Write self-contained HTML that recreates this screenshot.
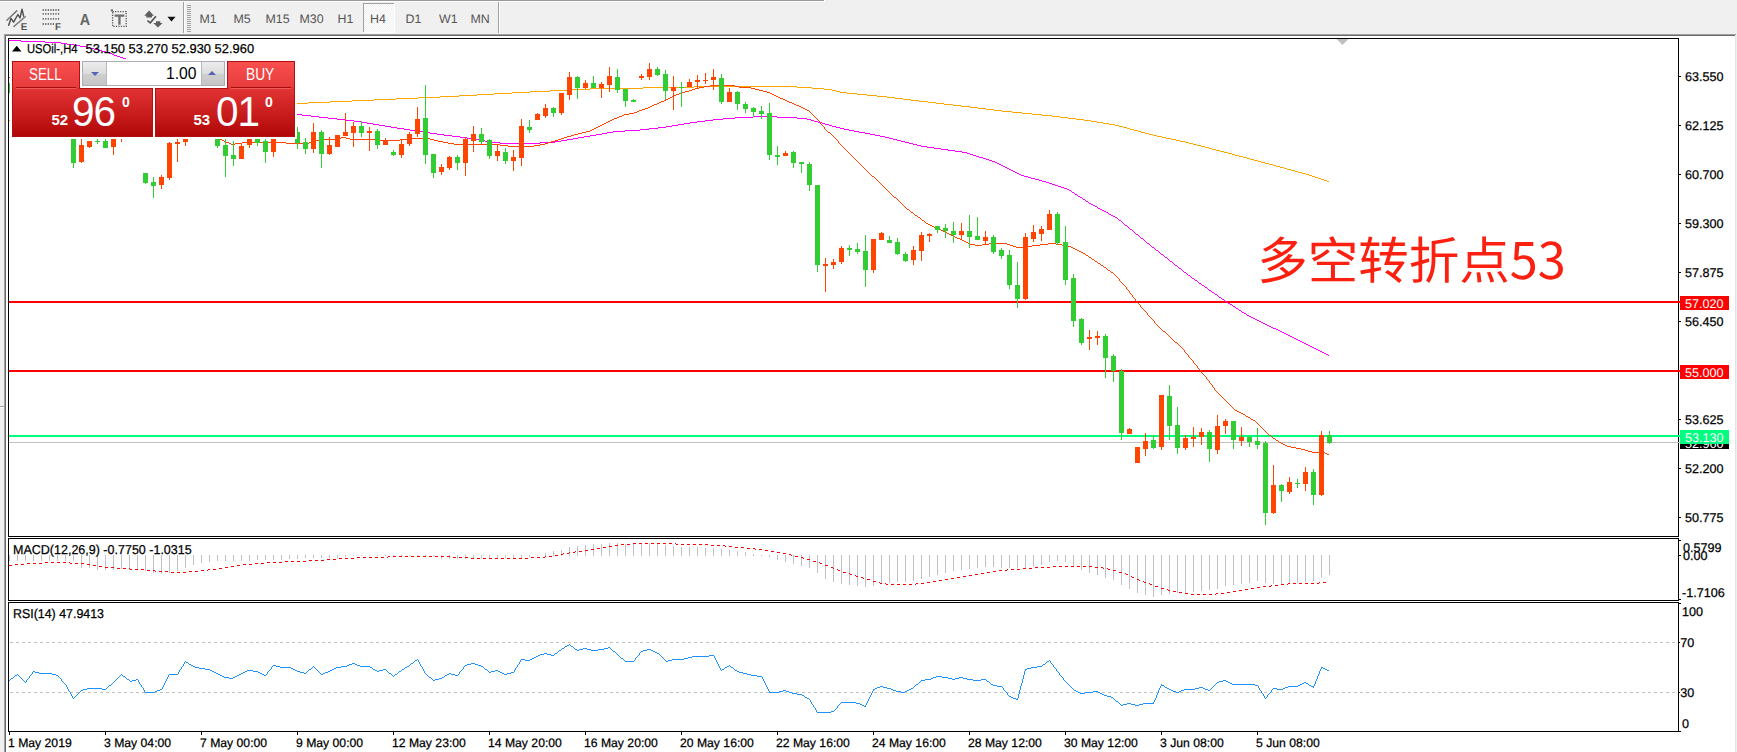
<!DOCTYPE html>
<html><head><meta charset="utf-8"><title>USOil H4</title>
<style>
html,body{margin:0;padding:0}
body{width:1737px;height:752px;overflow:hidden;background:#f0f0f0;position:relative;font-family:"Liberation Sans","Noto Sans CJK SC",sans-serif;}
#win{position:absolute;left:6px;top:36px;width:1729px;height:716px;background:#fff}
svg{position:absolute;left:0;top:0}
.t{font-family:"Liberation Sans",sans-serif;font-size:12.6px;fill:#000;stroke:#000;stroke-width:.25px}
.w{stroke:#fff}
.tb{font-family:"Liberation Sans",sans-serif;font-size:12.4px;fill:#555}
.abs{position:absolute}
#oct{position:absolute;left:0;top:0;width:1737px;height:752px;pointer-events:none}
.pan{position:absolute;box-sizing:border-box;border:1px solid #b30f12;color:#fff}
.sx{display:inline-block;transform-origin:0 50%;white-space:nowrap}
</style></head><body>
<div id="win"></div>

<svg width="1737" height="752" viewBox="0 0 1737 752" shape-rendering="crispEdges">
<rect x="0" y="0" width="824" height="1" fill="#989898"/><rect x="0" y="1" width="825" height="1" fill="#fff"/><rect x="824" y="0" width="1" height="2" fill="#fff"/>
<rect x="4" y="34" width="1732" height="1" fill="#a0a0a0"/><rect x="5" y="35" width="1730" height="1" fill="#696969"/>
<rect x="4" y="34" width="1" height="718" fill="#a0a0a0"/><rect x="5" y="35" width="1" height="717" fill="#696969"/>
<rect x="1735" y="36" width="1" height="716" fill="#e3e3e3"/>
<rect x="0" y="406" width="4" height="1" fill="#a0a0a0"/><rect x="0" y="407" width="4" height="1" fill="#fff"/>
<rect x="183" y="2" width="1" height="31" fill="#a0a0a0"/><rect x="184" y="2" width="1" height="31" fill="#fff"/>
<rect x="187" y="5" width="4" height="1" fill="#a0a0a0"/>
<rect x="187" y="7" width="4" height="1" fill="#a0a0a0"/>
<rect x="187" y="9" width="4" height="1" fill="#a0a0a0"/>
<rect x="187" y="11" width="4" height="1" fill="#a0a0a0"/>
<rect x="187" y="13" width="4" height="1" fill="#a0a0a0"/>
<rect x="187" y="15" width="4" height="1" fill="#a0a0a0"/>
<rect x="187" y="17" width="4" height="1" fill="#a0a0a0"/>
<rect x="187" y="19" width="4" height="1" fill="#a0a0a0"/>
<rect x="187" y="21" width="4" height="1" fill="#a0a0a0"/>
<rect x="187" y="23" width="4" height="1" fill="#a0a0a0"/>
<rect x="187" y="25" width="4" height="1" fill="#a0a0a0"/>
<rect x="187" y="27" width="4" height="1" fill="#a0a0a0"/>
<rect x="187" y="29" width="4" height="1" fill="#a0a0a0"/>
<rect x="187" y="31" width="4" height="1" fill="#a0a0a0"/>
<rect x="498" y="2" width="1" height="31" fill="#a0a0a0"/><rect x="499" y="2" width="1" height="31" fill="#fff"/>
<defs><pattern id="chk" width="2" height="2" patternUnits="userSpaceOnUse"><rect width="2" height="2" fill="#f0f0f0"/><rect width="1" height="1" fill="#fff"/><rect x="1" y="1" width="1" height="1" fill="#fff"/></pattern></defs>
<rect x="364" y="4" width="30" height="28" fill="url(#chk)"/><rect x="363" y="3" width="31" height="1" fill="#a0a0a0"/><rect x="363" y="3" width="1" height="29" fill="#a0a0a0"/><rect x="394" y="3" width="1" height="30" fill="#fff"/><rect x="363" y="32" width="32" height="1" fill="#fff"/>
<rect x="9" y="301" width="1669" height="2" fill="#ff0000"/>
<rect x="9" y="370" width="1669" height="2" fill="#ff0000"/>
<rect x="9" y="442" width="1669" height="1" fill="#c0c0c0"/>
<rect x="9" y="435" width="1669" height="2" fill="#00ff7f"/>
<polygon points="1336.5,39 1348.5,39 1342.5,45" fill="#c0c0c0" shape-rendering="auto"/>
<g clip-path="url(#cm)">
<clipPath id="cm"><rect x="9" y="39" width="1669" height="497"/></clipPath>
<path d="M694 86.5h103M643 87.5h51M797 87.5h15M590 88.5h53M812 88.5h12M570 89.5h20M824 89.5h8M550 90.5h20M832 90.5h4M530 91.5h20M836 91.5h4M512 92.5h18M840 92.5h7M494 93.5h18M847 93.5h10M477 94.5h17M857 94.5h10M459 95.5h18M867 95.5h10M440 96.5h19M877 96.5h10M418 97.5h22M887 97.5h8M396 98.5h22M895 98.5h8M374 99.5h22M903 99.5h8M352 100.5h22M911 100.5h8M330 101.5h22M919 101.5h9M308 102.5h22M928 102.5h8M289 103.5h19M936 103.5h8M272 104.5h17M944 104.5h9M255 105.5h17M953 105.5h8M238 106.5h17M961 106.5h9M221 107.5h17M970 107.5h8M204 108.5h17M978 108.5h8M187 109.5h17M986 109.5h8M170 110.5h17M994 110.5h8M153 111.5h17M1002 111.5h10M137 112.5h16M1012 112.5h10M120 113.5h17M1022 113.5h10M103 114.5h17M1032 114.5h10M86 115.5h17M1042 115.5h10M69 116.5h17M1052 116.5h8M52 117.5h17M1060 117.5h8M35 118.5h17M1068 118.5h8M18 119.5h17M1076 119.5h8M9 120.5h9M1084 120.5h7M1091 121.5h6M1097 122.5h6M1103 123.5h6M1109 124.5h6M1115 125.5h4M1119 126.5h4M1123 127.5h4M1127 128.5h3M1130 129.5h4M1134 130.5h4M1138 131.5h3M1141 132.5h4M1145 133.5h4M1149 134.5h4M1153 135.5h4M1157 136.5h5M1162 137.5h4M1166 138.5h5M1171 139.5h5M1176 140.5h4M1180 141.5h5M1185 142.5h4M1189 143.5h4M1193 144.5h4M1197 145.5h4M1201 146.5h4M1205 147.5h4M1209 148.5h3M1212 149.5h4M1216 150.5h4M1220 151.5h4M1224 152.5h4M1228 153.5h4M1232 154.5h3M1235 155.5h4M1239 156.5h4M1243 157.5h4M1247 158.5h3M1250 159.5h4M1254 160.5h4M1258 161.5h3M1261 162.5h4M1265 163.5h4M1269 164.5h4M1273 165.5h3M1276 166.5h4M1280 167.5h4M1284 168.5h3M1287 169.5h4M1291 170.5h4M1295 171.5h3M1298 172.5h4M1302 173.5h4M1306 174.5h3M1309 175.5h3M1312 176.5h3M1315 177.5h3M1318 178.5h3M1321 179.5h3M1324 180.5h3M1327 181.5h2" fill="none" stroke="#ffa500" stroke-width="1" />
<path d="M9 40.5h12M21 41.5h24M45 42.5h16M61 43.5h6M67 44.5h7M74 45.5h6M80 46.5h6M86 47.5h4M90 48.5h4M94 49.5h4M98 50.5h4M102 51.5h4M106 52.5h3M109 53.5h3M112 54.5h2M114 55.5h3M117 56.5h3M120 57.5h3M123 58.5h3M126 59.5h2M128 60.5h3M131 61.5h3M134 62.5h2M136 63.5h3M139 64.5h2M141 65.5h3M144 66.5h3M147 67.5h2M149 68.5h3M152 69.5h3M155 70.5h2M157 71.5h3M160 72.5h3M163 73.5h3M166 74.5h3M169 75.5h2M171 76.5h3M174 77.5h3M177 78.5h3M180 79.5h2M182 80.5h3M185 81.5h3M188 82.5h3M191 83.5h3M194 84.5h2M196 85.5h3M199 86.5h3M202 87.5h3M205 88.5h3M208 89.5h3M211 90.5h4M215 91.5h3M218 92.5h3M221 93.5h3M224 94.5h3M227 95.5h3M230 96.5h3M233 97.5h3M236 98.5h4M240 99.5h3M243 100.5h3M246 101.5h3M249 102.5h3M252 103.5h4M256 104.5h4M260 105.5h4M264 106.5h4M268 107.5h4M272 108.5h4M276 109.5h4M280 110.5h4M284 111.5h4M288 112.5h4M292 113.5h4M296 114.5h6M302 115.5h9M311 116.5h8M753 116.5h24M319 117.5h9M735 117.5h18M777 117.5h20M328 118.5h9M723 118.5h12M797 118.5h10M337 119.5h8M713 119.5h10M807 119.5h4M345 120.5h9M705 120.5h8M811 120.5h3M354 121.5h7M697 121.5h8M814 121.5h4M361 122.5h6M690 122.5h7M818 122.5h4M367 123.5h6M684 123.5h6M822 123.5h3M373 124.5h6M678 124.5h6M825 124.5h4M379 125.5h6M672 125.5h6M829 125.5h3M385 126.5h6M666 126.5h6M832 126.5h4M391 127.5h6M658 127.5h8M836 127.5h4M397 128.5h7M649 128.5h9M840 128.5h4M404 129.5h6M640 129.5h9M844 129.5h5M410 130.5h7M625 130.5h15M849 130.5h5M417 131.5h7M613 131.5h12M854 131.5h5M424 132.5h6M607 132.5h6M859 132.5h6M430 133.5h7M602 133.5h5M865 133.5h5M437 134.5h7M596 134.5h6M870 134.5h5M444 135.5h8M590 135.5h6M875 135.5h5M452 136.5h8M584 136.5h6M880 136.5h5M460 137.5h7M578 137.5h6M885 137.5h4M467 138.5h6M573 138.5h5M889 138.5h4M473 139.5h6M567 139.5h6M893 139.5h4M479 140.5h6M561 140.5h6M897 140.5h4M485 141.5h7M555 141.5h6M901 141.5h4M492 142.5h8M540 142.5h15M905 142.5h4M500 143.5h40M909 143.5h4M913 144.5h4M917 145.5h4M921 146.5h6M927 147.5h7M934 148.5h7M941 149.5h7M948 150.5h7M955 151.5h7M962 152.5h5M967 153.5h3M970 154.5h3M973 155.5h3M976 156.5h3M979 157.5h4M983 158.5h3M986 159.5h3M989 160.5h3M992 161.5h3M995 162.5h2M997 163.5h2M999 164.5h2M1001 165.5h2M1003 166.5h2M1005 167.5h2M1007 168.5h2M1009 169.5h2M1011 170.5h2M1013 171.5h2M1015 172.5h2M1017 173.5h2M1019 174.5h2M1021 175.5h3M1024 176.5h4M1028 177.5h3M1031 178.5h4M1035 179.5h4M1039 180.5h3M1042 181.5h4M1046 182.5h3M1049 183.5h3M1052 184.5h3M1055 185.5h3M1058 186.5h3M1061 187.5h3M1064 188.5h3M1067 189.5h2M1069 190.5h2M1071 191.5h1M1072 192.5h2M1074 193.5h1M1075 194.5h2M1077 195.5h1M1078 196.5h2M1080 197.5h2M1082 198.5h1M1083 199.5h2M1085 200.5h1M1086 201.5h2M1088 202.5h1M1089 203.5h2M1091 204.5h2M1093 205.5h2M1095 206.5h2M1097 207.5h1M1098 208.5h2M1100 209.5h2M1102 210.5h2M1104 211.5h2M1106 212.5h2M1108 213.5h1M1109 214.5h2M1111 215.5h2M1113 216.5h2M1115 217.5h2M1117 218.5h1M1118 219.5h1M1119 220.5h2M1121 221.5h1M1122 222.5h1M1123 223.5h1M1124 224.5h1M1125 225.5h2M1127 226.5h1M1128 227.5h1M1129 228.5h1M1130 229.5h2M1132 230.5h1M1133 231.5h1M1134 232.5h1M1135 233.5h1M1136 234.5h2M1138 235.5h1M1139 236.5h1M1140 237.5h1M1141 238.5h2M1143 239.5h1M1144 240.5h1M1145 241.5h1M1146 242.5h1M1147 243.5h2M1149 244.5h1M1150 245.5h1M1151 246.5h1M1152 247.5h2M1154 248.5h1M1155 249.5h1M1156 250.5h2M1158 251.5h1M1159 252.5h1M1160 253.5h1M1161 254.5h2M1163 255.5h1M1164 256.5h1M1165 257.5h2M1167 258.5h1M1168 259.5h1M1169 260.5h1M1170 261.5h2M1172 262.5h1M1173 263.5h1M1174 264.5h1M1175 265.5h2M1177 266.5h1M1178 267.5h1M1179 268.5h2M1181 269.5h1M1182 270.5h1M1183 271.5h1M1184 272.5h2M1186 273.5h1M1187 274.5h1M1188 275.5h2M1190 276.5h1M1191 277.5h1M1192 278.5h2M1194 279.5h1M1195 280.5h2M1197 281.5h1M1198 282.5h1M1199 283.5h2M1201 284.5h1M1202 285.5h2M1204 286.5h1M1205 287.5h2M1207 288.5h1M1208 289.5h1M1209 290.5h2M1211 291.5h1M1212 292.5h2M1214 293.5h1M1215 294.5h2M1217 295.5h1M1218 296.5h1M1219 297.5h2M1221 298.5h1M1222 299.5h2M1224 300.5h1M1225 301.5h2M1227 302.5h1M1228 303.5h2M1230 304.5h2M1232 305.5h1M1233 306.5h2M1235 307.5h1M1236 308.5h2M1238 309.5h1M1239 310.5h2M1241 311.5h1M1242 312.5h2M1244 313.5h2M1246 314.5h1M1247 315.5h2M1249 316.5h2M1251 317.5h2M1253 318.5h2M1255 319.5h2M1257 320.5h2M1259 321.5h2M1261 322.5h2M1263 323.5h2M1265 324.5h2M1267 325.5h2M1269 326.5h2M1271 327.5h2M1273 328.5h3M1276 329.5h2M1278 330.5h2M1280 331.5h2M1282 332.5h2M1284 333.5h2M1286 334.5h2M1288 335.5h2M1290 336.5h2M1292 337.5h2M1294 338.5h2M1296 339.5h2M1298 340.5h2M1300 341.5h2M1302 342.5h2M1304 343.5h2M1306 344.5h2M1308 345.5h2M1310 346.5h2M1312 347.5h2M1314 348.5h2M1316 349.5h2M1318 350.5h2M1320 351.5h2M1322 352.5h2M1324 353.5h2M1326 354.5h2M1328 355.5h1" fill="none" stroke="#ff00ff" stroke-width="1" />
<path d="M9 77.5h2M11 78.5h3M14 79.5h2M16 80.5h3M19 81.5h3M22 82.5h3M25 83.5h2M27 84.5h3M30 85.5h3M710 85.5h25M33 86.5h3M704 86.5h6M735 86.5h4M36 87.5h2M699 87.5h5M739 87.5h12M38 88.5h3M695 88.5h4M751 88.5h4M41 89.5h3M692 89.5h3M755 89.5h4M44 90.5h3M689 90.5h3M759 90.5h4M47 91.5h2M685 91.5h4M763 91.5h4M49 92.5h3M682 92.5h3M767 92.5h3M52 93.5h3M679 93.5h3M770 93.5h2M55 94.5h3M676 94.5h3M772 94.5h2M58 95.5h3M674 95.5h2M774 95.5h2M61 96.5h2M672 96.5h2M776 96.5h2M63 97.5h3M670 97.5h2M778 97.5h2M66 98.5h3M668 98.5h2M780 98.5h3M69 99.5h3M666 99.5h2M783 99.5h2M72 100.5h2M664 100.5h2M785 100.5h2M74 101.5h3M661 101.5h3M787 101.5h2M77 102.5h3M659 102.5h2M789 102.5h3M80 103.5h3M657 103.5h2M792 103.5h2M83 104.5h2M654 104.5h3M794 104.5h2M85 105.5h3M652 105.5h2M796 105.5h3M88 106.5h3M650 106.5h2M799 106.5h2M91 107.5h3M648 107.5h2M801 107.5h2M94 108.5h2M645 108.5h3M803 108.5h2M96 109.5h3M642 109.5h3M805 109.5h2M99 110.5h4M639 110.5h3M807 110.5h2M103 111.5h4M637 111.5h2M809 111.5h1M107 112.5h4M634 112.5h3M810 112.5h1M111 113.5h4M629 113.5h5M811 113.5h1M115 114.5h4M624 114.5h5M812 114.5h1M119 115.5h4M622 115.5h2M813 115.5h1M123 116.5h4M619 116.5h3M814 116.5h1M127 117.5h5M617 117.5h2M815 117.5h1M132 118.5h4M614 118.5h3M816 118.5h1M136 119.5h4M612 119.5h2M817 119.5h1M140 120.5h4M610 120.5h2M818 120.5h1M144 121.5h4M608 121.5h2M819 121.5h1M148 122.5h4M606 122.5h2M820 122.5h1M152 123.5h4M604 123.5h2M820 123.5h1M156 124.5h4M602 124.5h2M821 124.5h1M160 125.5h5M600 125.5h2M822 125.5h1M165 126.5h4M598 126.5h2M823 126.5h1M169 127.5h4M596 127.5h2M824 127.5h1M173 128.5h4M594 128.5h2M824 128.5h1M177 129.5h4M592 129.5h2M825 129.5h1M181 130.5h4M590 130.5h2M826 130.5h1M185 131.5h4M586 131.5h4M827 131.5h1M189 132.5h5M582 132.5h4M828 132.5h2M194 133.5h4M578 133.5h4M830 133.5h1M198 134.5h4M574 134.5h4M831 134.5h1M202 135.5h4M571 135.5h3M832 135.5h1M206 136.5h4M567 136.5h4M833 136.5h1M210 137.5h4M341 137.5h5M564 137.5h3M834 137.5h1M214 138.5h4M337 138.5h4M346 138.5h4M408 138.5h22M561 138.5h3M835 138.5h1M218 139.5h4M323 139.5h14M350 139.5h28M400 139.5h8M430 139.5h4M558 139.5h3M836 139.5h1M222 140.5h2M316 140.5h7M378 140.5h22M434 140.5h4M555 140.5h3M837 140.5h1M224 141.5h2M311 141.5h5M438 141.5h5M551 141.5h4M838 141.5h1M226 142.5h3M242 142.5h44M309 142.5h2M443 142.5h5M548 142.5h3M838 142.5h1M229 143.5h2M235 143.5h7M286 143.5h23M448 143.5h6M545 143.5h3M839 143.5h1M231 144.5h4M454 144.5h46M540 144.5h5M840 144.5h1M500 145.5h8M534 145.5h6M841 145.5h1M508 146.5h26M842 146.5h1M843 147.5h1M844 148.5h1M845 149.5h1M846 150.5h1M847 151.5h1M848 152.5h1M849 153.5h1M850 154.5h1M851 155.5h1M852 156.5h1M853 157.5h1M854 158.5h1M855 159.5h1M856 160.5h1M857 161.5h1M858 162.5h1M859 163.5h1M860 164.5h1M861 165.5h1M862 166.5h1M863 167.5h1M864 168.5h1M865 169.5h1M866 170.5h1M867 171.5h1M868 172.5h1M869 173.5h1M870 174.5h1M871 175.5h1M872 176.5h2M874 177.5h1M875 178.5h1M876 179.5h1M877 180.5h1M878 181.5h1M879 182.5h1M880 183.5h1M881 184.5h1M882 185.5h1M883 186.5h1M884 187.5h1M885 188.5h1M886 189.5h1M887 190.5h1M888 191.5h1M889 192.5h1M890 193.5h1M891 194.5h1M892 195.5h1M893 196.5h1M894 197.5h2M896 198.5h1M897 199.5h1M898 200.5h1M899 201.5h1M900 202.5h1M901 203.5h1M902 204.5h1M903 205.5h1M904 206.5h1M905 207.5h1M906 208.5h1M907 209.5h2M909 210.5h1M910 211.5h1M911 212.5h2M913 213.5h1M914 214.5h1M915 215.5h2M917 216.5h1M918 217.5h2M920 218.5h1M921 219.5h1M922 220.5h2M924 221.5h1M925 222.5h1M926 223.5h2M928 224.5h2M930 225.5h2M932 226.5h2M934 227.5h2M936 228.5h3M939 229.5h2M941 230.5h2M943 231.5h2M945 232.5h2M947 233.5h2M949 234.5h2M951 235.5h2M953 236.5h2M955 237.5h2M957 238.5h3M960 239.5h2M962 240.5h2M964 241.5h2M966 242.5h2M968 243.5h2M989 243.5h18M1048 243.5h8M970 244.5h5M982 244.5h7M1007 244.5h3M1040 244.5h8M1056 244.5h6M975 245.5h7M1010 245.5h3M1032 245.5h8M1062 245.5h6M1013 246.5h3M1023 246.5h9M1068 246.5h3M1016 247.5h7M1071 247.5h2M1073 248.5h2M1075 249.5h2M1077 250.5h2M1079 251.5h2M1081 252.5h2M1083 253.5h2M1085 254.5h1M1086 255.5h2M1088 256.5h1M1089 257.5h2M1091 258.5h1M1092 259.5h2M1094 260.5h1M1095 261.5h2M1097 262.5h1M1098 263.5h2M1100 264.5h1M1101 265.5h2M1103 266.5h1M1104 267.5h2M1106 268.5h1M1107 269.5h1M1108 270.5h2M1110 271.5h1M1111 272.5h2M1113 273.5h1M1114 274.5h1M1115 275.5h1M1116 276.5h1M1117 277.5h1M1118 278.5h1M1119 279.5h1M1119 280.5h1M1120 281.5h1M1121 282.5h1M1122 283.5h1M1123 284.5h1M1124 285.5h1M1125 286.5h1M1126 287.5h1M1126 288.5h1M1127 289.5h1M1128 290.5h1M1129 291.5h1M1129 292.5h1M1130 293.5h1M1131 294.5h1M1132 295.5h1M1132 296.5h1M1133 297.5h1M1134 298.5h1M1135 299.5h1M1135 300.5h1M1136 301.5h1M1137 302.5h1M1138 303.5h1M1139 304.5h1M1140 305.5h1M1140 306.5h1M1141 307.5h1M1142 308.5h1M1143 309.5h1M1144 310.5h1M1145 311.5h1M1146 312.5h1M1147 313.5h1M1147 314.5h1M1148 315.5h1M1149 316.5h1M1150 317.5h1M1151 318.5h1M1152 319.5h1M1153 320.5h1M1154 321.5h1M1154 322.5h1M1155 323.5h1M1156 324.5h1M1157 325.5h1M1158 326.5h1M1159 327.5h1M1160 328.5h1M1161 329.5h1M1162 330.5h1M1163 331.5h2M1165 332.5h1M1166 333.5h1M1167 334.5h1M1168 335.5h1M1169 336.5h1M1170 337.5h1M1171 338.5h1M1172 339.5h1M1173 340.5h1M1174 341.5h1M1175 342.5h2M1177 343.5h1M1178 344.5h1M1179 345.5h1M1180 346.5h1M1181 347.5h1M1182 348.5h1M1183 349.5h1M1184 350.5h1M1184 351.5h1M1185 352.5h1M1186 353.5h1M1187 354.5h1M1188 355.5h1M1188 356.5h1M1189 357.5h1M1190 358.5h1M1191 359.5h1M1192 360.5h1M1193 361.5h1M1193 362.5h1M1194 363.5h1M1195 364.5h1M1196 365.5h1M1197 366.5h1M1197 367.5h1M1198 368.5h1M1199 369.5h1M1200 370.5h1M1201 371.5h1M1201 372.5h1M1202 373.5h1M1203 374.5h1M1204 375.5h1M1205 376.5h1M1206 377.5h1M1206 378.5h1M1207 379.5h1M1208 380.5h1M1209 381.5h1M1209 382.5h1M1210 383.5h1M1211 384.5h1M1212 385.5h1M1212 386.5h1M1213 387.5h1M1214 388.5h1M1214 389.5h1M1215 390.5h1M1216 391.5h1M1217 392.5h1M1218 393.5h1M1219 394.5h1M1220 395.5h1M1221 396.5h1M1222 397.5h1M1223 398.5h1M1224 399.5h1M1225 400.5h1M1226 401.5h1M1227 402.5h1M1228 403.5h1M1229 404.5h1M1230 405.5h1M1231 406.5h1M1232 407.5h1M1233 408.5h1M1234 409.5h1M1235 410.5h2M1237 411.5h2M1239 412.5h2M1241 413.5h2M1243 414.5h2M1245 415.5h1M1246 416.5h2M1248 417.5h2M1250 418.5h1M1251 419.5h2M1253 420.5h2M1255 421.5h1M1256 422.5h1M1257 423.5h1M1258 424.5h1M1259 425.5h1M1260 426.5h1M1261 427.5h1M1262 428.5h1M1263 429.5h1M1264 430.5h1M1265 431.5h1M1266 432.5h1M1267 433.5h1M1268 434.5h1M1269 435.5h2M1271 436.5h1M1272 437.5h1M1273 438.5h2M1275 439.5h1M1276 440.5h2M1278 441.5h1M1279 442.5h2M1281 443.5h2M1283 444.5h2M1285 445.5h2M1287 446.5h4M1291 447.5h5M1296 448.5h5M1301 449.5h4M1305 450.5h3M1308 451.5h4M1312 452.5h13M1325 453.5h2M1327 454.5h2" fill="none" stroke="#ff4500" stroke-width="1" />
<rect x="9" y="83" width="1" height="10" fill="#32cd32"/>
<rect x="7" y="83" width="5" height="10" fill="#32cd32"/>
<rect x="73" y="130" width="1" height="38" fill="#32cd32"/>
<rect x="71" y="130" width="5" height="33" fill="#32cd32"/>
<rect x="81" y="130" width="1" height="33" fill="#ff4500"/>
<rect x="79" y="145" width="5" height="17" fill="#ff4500"/>
<rect x="89" y="141" width="1" height="7" fill="#ff4500"/>
<rect x="87" y="141" width="5" height="6" fill="#ff4500"/>
<rect x="97" y="130" width="1" height="14" fill="#32cd32"/>
<rect x="95" y="141" width="5" height="1" fill="#32cd32"/>
<rect x="105" y="139" width="1" height="9" fill="#32cd32"/>
<rect x="103" y="141" width="5" height="7" fill="#32cd32"/>
<rect x="113" y="130" width="1" height="25" fill="#ff4500"/>
<rect x="111" y="130" width="5" height="17" fill="#ff4500"/>
<rect x="121" y="130" width="1" height="12" fill="#ff4500"/>
<rect x="145" y="173" width="1" height="11" fill="#32cd32"/>
<rect x="143" y="173" width="5" height="10" fill="#32cd32"/>
<rect x="153" y="177" width="1" height="21" fill="#32cd32"/>
<rect x="151" y="182" width="5" height="4" fill="#32cd32"/>
<rect x="161" y="175" width="1" height="14" fill="#ff4500"/>
<rect x="159" y="177" width="5" height="8" fill="#ff4500"/>
<rect x="169" y="142" width="1" height="38" fill="#ff4500"/>
<rect x="167" y="143" width="5" height="35" fill="#ff4500"/>
<rect x="177" y="130" width="1" height="32" fill="#ff4500"/>
<rect x="175" y="142" width="5" height="2" fill="#ff4500"/>
<rect x="185" y="130" width="1" height="16" fill="#ff4500"/>
<rect x="183" y="130" width="5" height="12" fill="#ff4500"/>
<rect x="217" y="130" width="1" height="18" fill="#32cd32"/>
<rect x="215" y="130" width="5" height="16" fill="#32cd32"/>
<rect x="225" y="130" width="1" height="47" fill="#32cd32"/>
<rect x="223" y="145" width="5" height="11" fill="#32cd32"/>
<rect x="233" y="141" width="1" height="25" fill="#32cd32"/>
<rect x="231" y="155" width="5" height="4" fill="#32cd32"/>
<rect x="241" y="144" width="1" height="15" fill="#ff4500"/>
<rect x="239" y="146" width="5" height="13" fill="#ff4500"/>
<rect x="249" y="130" width="1" height="18" fill="#ff4500"/>
<rect x="247" y="130" width="5" height="15" fill="#ff4500"/>
<rect x="257" y="130" width="1" height="16" fill="#32cd32"/>
<rect x="255" y="130" width="5" height="13" fill="#32cd32"/>
<rect x="265" y="139" width="1" height="24" fill="#32cd32"/>
<rect x="263" y="141" width="5" height="11" fill="#32cd32"/>
<rect x="273" y="130" width="1" height="27" fill="#ff4500"/>
<rect x="271" y="130" width="5" height="22" fill="#ff4500"/>
<rect x="297" y="127" width="1" height="22" fill="#32cd32"/>
<rect x="295" y="132" width="5" height="11" fill="#32cd32"/>
<rect x="305" y="138" width="1" height="16" fill="#32cd32"/>
<rect x="303" y="142" width="5" height="7" fill="#32cd32"/>
<rect x="313" y="123" width="1" height="30" fill="#ff4500"/>
<rect x="311" y="132" width="5" height="17" fill="#ff4500"/>
<rect x="321" y="130" width="1" height="38" fill="#32cd32"/>
<rect x="319" y="132" width="5" height="22" fill="#32cd32"/>
<rect x="329" y="137" width="1" height="18" fill="#ff4500"/>
<rect x="327" y="145" width="5" height="9" fill="#ff4500"/>
<rect x="337" y="135" width="1" height="12" fill="#ff4500"/>
<rect x="335" y="135" width="5" height="12" fill="#ff4500"/>
<rect x="345" y="113" width="1" height="23" fill="#ff4500"/>
<rect x="343" y="132" width="5" height="4" fill="#ff4500"/>
<rect x="353" y="122" width="1" height="25" fill="#ff4500"/>
<rect x="351" y="126" width="5" height="7" fill="#ff4500"/>
<rect x="361" y="121" width="1" height="16" fill="#32cd32"/>
<rect x="359" y="126" width="5" height="7" fill="#32cd32"/>
<rect x="369" y="127" width="1" height="24" fill="#ff4500"/>
<rect x="367" y="131" width="5" height="2" fill="#ff4500"/>
<rect x="377" y="129" width="1" height="20" fill="#32cd32"/>
<rect x="375" y="131" width="5" height="14" fill="#32cd32"/>
<rect x="385" y="138" width="1" height="7" fill="#ff4500"/>
<rect x="383" y="140" width="5" height="5" fill="#ff4500"/>
<rect x="393" y="150" width="1" height="6" fill="#32cd32"/>
<rect x="391" y="152" width="5" height="3" fill="#32cd32"/>
<rect x="401" y="140" width="1" height="18" fill="#ff4500"/>
<rect x="399" y="144" width="5" height="11" fill="#ff4500"/>
<rect x="409" y="132" width="1" height="14" fill="#ff4500"/>
<rect x="407" y="134" width="5" height="10" fill="#ff4500"/>
<rect x="417" y="107" width="1" height="30" fill="#ff4500"/>
<rect x="415" y="119" width="5" height="15" fill="#ff4500"/>
<rect x="425" y="85" width="1" height="79" fill="#32cd32"/>
<rect x="423" y="118" width="5" height="37" fill="#32cd32"/>
<rect x="433" y="154" width="1" height="24" fill="#32cd32"/>
<rect x="431" y="154" width="5" height="19" fill="#32cd32"/>
<rect x="441" y="164" width="1" height="11" fill="#ff4500"/>
<rect x="439" y="167" width="5" height="5" fill="#ff4500"/>
<rect x="449" y="156" width="1" height="14" fill="#ff4500"/>
<rect x="447" y="157" width="5" height="11" fill="#ff4500"/>
<rect x="457" y="155" width="1" height="15" fill="#32cd32"/>
<rect x="455" y="157" width="5" height="6" fill="#32cd32"/>
<rect x="465" y="137" width="1" height="39" fill="#ff4500"/>
<rect x="463" y="139" width="5" height="24" fill="#ff4500"/>
<rect x="473" y="126" width="1" height="26" fill="#ff4500"/>
<rect x="471" y="134" width="5" height="7" fill="#ff4500"/>
<rect x="481" y="128" width="1" height="16" fill="#32cd32"/>
<rect x="479" y="134" width="5" height="8" fill="#32cd32"/>
<rect x="489" y="139" width="1" height="20" fill="#32cd32"/>
<rect x="487" y="140" width="5" height="16" fill="#32cd32"/>
<rect x="497" y="145" width="1" height="16" fill="#ff4500"/>
<rect x="495" y="151" width="5" height="5" fill="#ff4500"/>
<rect x="505" y="148" width="1" height="16" fill="#32cd32"/>
<rect x="503" y="152" width="5" height="9" fill="#32cd32"/>
<rect x="513" y="150" width="1" height="21" fill="#ff4500"/>
<rect x="511" y="157" width="5" height="4" fill="#ff4500"/>
<rect x="521" y="119" width="1" height="47" fill="#ff4500"/>
<rect x="519" y="126" width="5" height="32" fill="#ff4500"/>
<rect x="529" y="120" width="1" height="13" fill="#32cd32"/>
<rect x="527" y="127" width="5" height="3" fill="#32cd32"/>
<rect x="537" y="113" width="1" height="7" fill="#ff4500"/>
<rect x="535" y="114" width="5" height="6" fill="#ff4500"/>
<rect x="545" y="104" width="1" height="14" fill="#ff4500"/>
<rect x="543" y="108" width="5" height="8" fill="#ff4500"/>
<rect x="553" y="107" width="1" height="10" fill="#32cd32"/>
<rect x="551" y="108" width="5" height="5" fill="#32cd32"/>
<rect x="561" y="93" width="1" height="22" fill="#ff4500"/>
<rect x="559" y="93" width="5" height="20" fill="#ff4500"/>
<rect x="569" y="72" width="1" height="28" fill="#ff4500"/>
<rect x="567" y="77" width="5" height="18" fill="#ff4500"/>
<rect x="577" y="76" width="1" height="23" fill="#32cd32"/>
<rect x="575" y="77" width="5" height="11" fill="#32cd32"/>
<rect x="585" y="80" width="1" height="9" fill="#ff4500"/>
<rect x="583" y="83" width="5" height="5" fill="#ff4500"/>
<rect x="593" y="76" width="1" height="12" fill="#32cd32"/>
<rect x="591" y="83" width="5" height="5" fill="#32cd32"/>
<rect x="601" y="82" width="1" height="16" fill="#ff4500"/>
<rect x="599" y="84" width="5" height="4" fill="#ff4500"/>
<rect x="609" y="67" width="1" height="25" fill="#ff4500"/>
<rect x="607" y="76" width="5" height="9" fill="#ff4500"/>
<rect x="617" y="69" width="1" height="24" fill="#32cd32"/>
<rect x="615" y="77" width="5" height="13" fill="#32cd32"/>
<rect x="625" y="89" width="1" height="18" fill="#32cd32"/>
<rect x="623" y="89" width="5" height="12" fill="#32cd32"/>
<rect x="633" y="99" width="1" height="3" fill="#32cd32"/>
<rect x="631" y="100" width="5" height="2" fill="#32cd32"/>
<rect x="641" y="74" width="1" height="6" fill="#ff4500"/>
<rect x="639" y="76" width="5" height="2" fill="#ff4500"/>
<rect x="649" y="63" width="1" height="17" fill="#ff4500"/>
<rect x="647" y="69" width="5" height="8" fill="#ff4500"/>
<rect x="657" y="67" width="1" height="9" fill="#32cd32"/>
<rect x="655" y="69" width="5" height="6" fill="#32cd32"/>
<rect x="665" y="70" width="1" height="30" fill="#32cd32"/>
<rect x="663" y="74" width="5" height="17" fill="#32cd32"/>
<rect x="673" y="76" width="1" height="34" fill="#ff4500"/>
<rect x="671" y="87" width="5" height="4" fill="#ff4500"/>
<rect x="681" y="82" width="1" height="25" fill="#32cd32"/>
<rect x="679" y="87" width="5" height="1" fill="#32cd32"/>
<rect x="689" y="79" width="1" height="8" fill="#ff4500"/>
<rect x="687" y="82" width="5" height="5" fill="#ff4500"/>
<rect x="697" y="75" width="1" height="14" fill="#ff4500"/>
<rect x="695" y="80" width="5" height="2" fill="#ff4500"/>
<rect x="705" y="73" width="1" height="11" fill="#ff4500"/>
<rect x="703" y="80" width="5" height="1" fill="#ff4500"/>
<rect x="713" y="69" width="1" height="21" fill="#ff4500"/>
<rect x="711" y="77" width="5" height="3" fill="#ff4500"/>
<rect x="721" y="74" width="1" height="30" fill="#32cd32"/>
<rect x="719" y="78" width="5" height="24" fill="#32cd32"/>
<rect x="729" y="88" width="1" height="14" fill="#ff4500"/>
<rect x="727" y="92" width="5" height="10" fill="#ff4500"/>
<rect x="737" y="91" width="1" height="19" fill="#32cd32"/>
<rect x="735" y="92" width="5" height="12" fill="#32cd32"/>
<rect x="745" y="102" width="1" height="11" fill="#32cd32"/>
<rect x="743" y="104" width="5" height="5" fill="#32cd32"/>
<rect x="753" y="107" width="1" height="10" fill="#32cd32"/>
<rect x="751" y="108" width="5" height="4" fill="#32cd32"/>
<rect x="761" y="106" width="1" height="13" fill="#32cd32"/>
<rect x="759" y="111" width="5" height="3" fill="#32cd32"/>
<rect x="769" y="103" width="1" height="57" fill="#32cd32"/>
<rect x="767" y="113" width="5" height="42" fill="#32cd32"/>
<rect x="777" y="146" width="1" height="19" fill="#32cd32"/>
<rect x="775" y="155" width="5" height="2" fill="#32cd32"/>
<rect x="785" y="151" width="1" height="5" fill="#ff4500"/>
<rect x="783" y="153" width="5" height="3" fill="#ff4500"/>
<rect x="793" y="151" width="1" height="17" fill="#32cd32"/>
<rect x="791" y="152" width="5" height="11" fill="#32cd32"/>
<rect x="801" y="162" width="1" height="11" fill="#32cd32"/>
<rect x="799" y="162" width="5" height="2" fill="#32cd32"/>
<rect x="809" y="162" width="1" height="29" fill="#32cd32"/>
<rect x="807" y="164" width="5" height="21" fill="#32cd32"/>
<rect x="817" y="185" width="1" height="87" fill="#32cd32"/>
<rect x="815" y="185" width="5" height="80" fill="#32cd32"/>
<rect x="825" y="258" width="1" height="34" fill="#ff4500"/>
<rect x="823" y="264" width="5" height="2" fill="#ff4500"/>
<rect x="833" y="259" width="1" height="10" fill="#ff4500"/>
<rect x="831" y="262" width="5" height="3" fill="#ff4500"/>
<rect x="841" y="246" width="1" height="18" fill="#ff4500"/>
<rect x="839" y="248" width="5" height="14" fill="#ff4500"/>
<rect x="849" y="245" width="1" height="11" fill="#32cd32"/>
<rect x="847" y="248" width="5" height="2" fill="#32cd32"/>
<rect x="857" y="243" width="1" height="11" fill="#32cd32"/>
<rect x="855" y="249" width="5" height="3" fill="#32cd32"/>
<rect x="865" y="235" width="1" height="52" fill="#32cd32"/>
<rect x="863" y="251" width="5" height="19" fill="#32cd32"/>
<rect x="873" y="239" width="1" height="34" fill="#ff4500"/>
<rect x="871" y="239" width="5" height="31" fill="#ff4500"/>
<rect x="881" y="232" width="1" height="8" fill="#ff4500"/>
<rect x="879" y="233" width="5" height="7" fill="#ff4500"/>
<rect x="889" y="236" width="1" height="7" fill="#32cd32"/>
<rect x="887" y="240" width="5" height="3" fill="#32cd32"/>
<rect x="897" y="238" width="1" height="17" fill="#32cd32"/>
<rect x="895" y="242" width="5" height="12" fill="#32cd32"/>
<rect x="905" y="252" width="1" height="10" fill="#32cd32"/>
<rect x="903" y="254" width="5" height="7" fill="#32cd32"/>
<rect x="913" y="246" width="1" height="19" fill="#ff4500"/>
<rect x="911" y="250" width="5" height="10" fill="#ff4500"/>
<rect x="921" y="232" width="1" height="29" fill="#ff4500"/>
<rect x="919" y="235" width="5" height="16" fill="#ff4500"/>
<rect x="929" y="233" width="1" height="9" fill="#ff4500"/>
<rect x="927" y="234" width="5" height="2" fill="#ff4500"/>
<rect x="937" y="226" width="1" height="7" fill="#32cd32"/>
<rect x="935" y="226" width="5" height="4" fill="#32cd32"/>
<rect x="945" y="224" width="1" height="14" fill="#32cd32"/>
<rect x="943" y="228" width="5" height="3" fill="#32cd32"/>
<rect x="953" y="222" width="1" height="21" fill="#32cd32"/>
<rect x="951" y="231" width="5" height="4" fill="#32cd32"/>
<rect x="961" y="223" width="1" height="17" fill="#ff4500"/>
<rect x="959" y="231" width="5" height="4" fill="#ff4500"/>
<rect x="969" y="215" width="1" height="33" fill="#32cd32"/>
<rect x="967" y="231" width="5" height="6" fill="#32cd32"/>
<rect x="977" y="217" width="1" height="23" fill="#32cd32"/>
<rect x="975" y="236" width="5" height="4" fill="#32cd32"/>
<rect x="985" y="231" width="1" height="13" fill="#ff4500"/>
<rect x="983" y="237" width="5" height="4" fill="#ff4500"/>
<rect x="993" y="235" width="1" height="19" fill="#32cd32"/>
<rect x="991" y="237" width="5" height="15" fill="#32cd32"/>
<rect x="1001" y="248" width="1" height="11" fill="#32cd32"/>
<rect x="999" y="250" width="5" height="6" fill="#32cd32"/>
<rect x="1009" y="250" width="1" height="39" fill="#32cd32"/>
<rect x="1007" y="255" width="5" height="30" fill="#32cd32"/>
<rect x="1017" y="262" width="1" height="46" fill="#32cd32"/>
<rect x="1015" y="285" width="5" height="14" fill="#32cd32"/>
<rect x="1025" y="233" width="1" height="67" fill="#ff4500"/>
<rect x="1023" y="237" width="5" height="62" fill="#ff4500"/>
<rect x="1033" y="225" width="1" height="17" fill="#ff4500"/>
<rect x="1031" y="232" width="5" height="7" fill="#ff4500"/>
<rect x="1041" y="226" width="1" height="15" fill="#ff4500"/>
<rect x="1039" y="229" width="5" height="5" fill="#ff4500"/>
<rect x="1049" y="210" width="1" height="20" fill="#ff4500"/>
<rect x="1047" y="214" width="5" height="16" fill="#ff4500"/>
<rect x="1057" y="212" width="1" height="33" fill="#32cd32"/>
<rect x="1055" y="214" width="5" height="29" fill="#32cd32"/>
<rect x="1065" y="226" width="1" height="59" fill="#32cd32"/>
<rect x="1063" y="242" width="5" height="38" fill="#32cd32"/>
<rect x="1073" y="274" width="1" height="53" fill="#32cd32"/>
<rect x="1071" y="278" width="5" height="43" fill="#32cd32"/>
<rect x="1081" y="318" width="1" height="27" fill="#32cd32"/>
<rect x="1079" y="319" width="5" height="24" fill="#32cd32"/>
<rect x="1089" y="330" width="1" height="20" fill="#ff4500"/>
<rect x="1087" y="337" width="5" height="2" fill="#ff4500"/>
<rect x="1097" y="331" width="1" height="14" fill="#ff4500"/>
<rect x="1095" y="336" width="5" height="2" fill="#ff4500"/>
<rect x="1105" y="334" width="1" height="44" fill="#32cd32"/>
<rect x="1103" y="336" width="5" height="22" fill="#32cd32"/>
<rect x="1113" y="354" width="1" height="28" fill="#32cd32"/>
<rect x="1111" y="356" width="5" height="15" fill="#32cd32"/>
<rect x="1121" y="369" width="1" height="71" fill="#32cd32"/>
<rect x="1119" y="371" width="5" height="62" fill="#32cd32"/>
<rect x="1129" y="428" width="1" height="6" fill="#ff4500"/>
<rect x="1127" y="429" width="5" height="5" fill="#ff4500"/>
<rect x="1137" y="447" width="1" height="16" fill="#ff4500"/>
<rect x="1135" y="447" width="5" height="16" fill="#ff4500"/>
<rect x="1145" y="433" width="1" height="23" fill="#ff4500"/>
<rect x="1143" y="441" width="5" height="8" fill="#ff4500"/>
<rect x="1153" y="435" width="1" height="14" fill="#32cd32"/>
<rect x="1151" y="440" width="5" height="8" fill="#32cd32"/>
<rect x="1161" y="395" width="1" height="55" fill="#ff4500"/>
<rect x="1159" y="395" width="5" height="52" fill="#ff4500"/>
<rect x="1169" y="385" width="1" height="55" fill="#32cd32"/>
<rect x="1167" y="396" width="5" height="30" fill="#32cd32"/>
<rect x="1177" y="407" width="1" height="47" fill="#32cd32"/>
<rect x="1175" y="425" width="5" height="23" fill="#32cd32"/>
<rect x="1185" y="435" width="1" height="15" fill="#ff4500"/>
<rect x="1183" y="438" width="5" height="10" fill="#ff4500"/>
<rect x="1193" y="427" width="1" height="20" fill="#ff4500"/>
<rect x="1191" y="437" width="5" height="2" fill="#ff4500"/>
<rect x="1201" y="428" width="1" height="17" fill="#ff4500"/>
<rect x="1199" y="432" width="5" height="5" fill="#ff4500"/>
<rect x="1209" y="430" width="1" height="32" fill="#32cd32"/>
<rect x="1207" y="432" width="5" height="17" fill="#32cd32"/>
<rect x="1217" y="415" width="1" height="39" fill="#ff4500"/>
<rect x="1215" y="426" width="5" height="24" fill="#ff4500"/>
<rect x="1225" y="419" width="1" height="15" fill="#ff4500"/>
<rect x="1223" y="421" width="5" height="5" fill="#ff4500"/>
<rect x="1233" y="421" width="1" height="28" fill="#32cd32"/>
<rect x="1231" y="421" width="5" height="19" fill="#32cd32"/>
<rect x="1241" y="427" width="1" height="19" fill="#ff4500"/>
<rect x="1239" y="437" width="5" height="4" fill="#ff4500"/>
<rect x="1249" y="436" width="1" height="11" fill="#32cd32"/>
<rect x="1247" y="437" width="5" height="5" fill="#32cd32"/>
<rect x="1257" y="428" width="1" height="21" fill="#32cd32"/>
<rect x="1255" y="441" width="5" height="4" fill="#32cd32"/>
<rect x="1265" y="441" width="1" height="84" fill="#32cd32"/>
<rect x="1263" y="443" width="5" height="70" fill="#32cd32"/>
<rect x="1273" y="465" width="1" height="49" fill="#ff4500"/>
<rect x="1271" y="485" width="5" height="28" fill="#ff4500"/>
<rect x="1281" y="484" width="1" height="18" fill="#32cd32"/>
<rect x="1279" y="485" width="5" height="6" fill="#32cd32"/>
<rect x="1289" y="477" width="1" height="17" fill="#ff4500"/>
<rect x="1287" y="482" width="5" height="10" fill="#ff4500"/>
<rect x="1297" y="479" width="1" height="9" fill="#32cd32"/>
<rect x="1295" y="483" width="5" height="1" fill="#32cd32"/>
<rect x="1305" y="467" width="1" height="24" fill="#ff4500"/>
<rect x="1303" y="472" width="5" height="12" fill="#ff4500"/>
<rect x="1313" y="469" width="1" height="36" fill="#32cd32"/>
<rect x="1311" y="472" width="5" height="23" fill="#32cd32"/>
<rect x="1321" y="431" width="1" height="65" fill="#ff4500"/>
<rect x="1319" y="435" width="5" height="60" fill="#ff4500"/>
<rect x="1329" y="431" width="1" height="13" fill="#32cd32"/>
<rect x="1327" y="435" width="5" height="8" fill="#32cd32"/>
</g>
<rect x="8.5" y="38.5" width="1670" height="498" fill="none" stroke="#000"/>
<rect x="8.5" y="538.5" width="1670" height="62" fill="none" stroke="#000"/>
<rect x="8.5" y="602.5" width="1670" height="129" fill="none" stroke="#000"/>
<rect x="1678" y="301" width="2" height="2" fill="#ff0000"/><rect x="1678" y="370" width="2" height="2" fill="#ff0000"/><rect x="1678" y="442" width="2" height="1" fill="#c0c0c0"/><rect x="1678" y="435" width="2" height="2" fill="#00ff7f"/>
<rect x="1679" y="76" width="2" height="1" fill="#000"/>
<rect x="1679" y="125" width="2" height="1" fill="#000"/>
<rect x="1679" y="174" width="2" height="1" fill="#000"/>
<rect x="1679" y="223" width="2" height="1" fill="#000"/>
<rect x="1679" y="272" width="2" height="1" fill="#000"/>
<rect x="1679" y="321" width="2" height="1" fill="#000"/>
<rect x="1679" y="419" width="2" height="1" fill="#000"/>
<rect x="1679" y="468" width="2" height="1" fill="#000"/>
<rect x="1679" y="517" width="2" height="1" fill="#000"/>
<rect x="1679" y="540" width="2" height="1" fill="#000"/>
<rect x="1679" y="555" width="2" height="1" fill="#000"/>
<rect x="1679" y="599" width="2" height="1" fill="#000"/>
<rect x="1679" y="603" width="2" height="1" fill="#000"/>
<rect x="1679" y="731" width="2" height="1" fill="#000"/>
<rect x="1679" y="642" width="1" height="1" fill="#000"/><rect x="1679" y="692" width="1" height="1" fill="#000"/>
<rect x="9" y="732" width="1" height="3" fill="#000"/>
<rect x="105" y="732" width="1" height="3" fill="#000"/>
<rect x="201" y="732" width="1" height="3" fill="#000"/>
<rect x="297" y="732" width="1" height="3" fill="#000"/>
<rect x="393" y="732" width="1" height="3" fill="#000"/>
<rect x="489" y="732" width="1" height="3" fill="#000"/>
<rect x="585" y="732" width="1" height="3" fill="#000"/>
<rect x="681" y="732" width="1" height="3" fill="#000"/>
<rect x="777" y="732" width="1" height="3" fill="#000"/>
<rect x="873" y="732" width="1" height="3" fill="#000"/>
<rect x="969" y="732" width="1" height="3" fill="#000"/>
<rect x="1065" y="732" width="1" height="3" fill="#000"/>
<rect x="1161" y="732" width="1" height="3" fill="#000"/>
<rect x="1257" y="732" width="1" height="3" fill="#000"/>
<rect x="9" y="555" width="1" height="6" fill="#c0c0c0"/>
<rect x="17" y="555" width="1" height="6" fill="#c0c0c0"/>
<rect x="25" y="555" width="1" height="6" fill="#c0c0c0"/>
<rect x="33" y="555" width="1" height="6" fill="#c0c0c0"/>
<rect x="41" y="555" width="1" height="6" fill="#c0c0c0"/>
<rect x="49" y="555" width="1" height="6" fill="#c0c0c0"/>
<rect x="57" y="555" width="1" height="6" fill="#c0c0c0"/>
<rect x="65" y="555" width="1" height="6" fill="#c0c0c0"/>
<rect x="73" y="555" width="1" height="6" fill="#c0c0c0"/>
<rect x="81" y="555" width="1" height="13" fill="#c0c0c0"/>
<rect x="89" y="555" width="1" height="13" fill="#c0c0c0"/>
<rect x="97" y="555" width="1" height="15" fill="#c0c0c0"/>
<rect x="105" y="555" width="1" height="15" fill="#c0c0c0"/>
<rect x="113" y="555" width="1" height="15" fill="#c0c0c0"/>
<rect x="121" y="555" width="1" height="14" fill="#c0c0c0"/>
<rect x="129" y="555" width="1" height="15" fill="#c0c0c0"/>
<rect x="137" y="555" width="1" height="15" fill="#c0c0c0"/>
<rect x="145" y="555" width="1" height="16" fill="#c0c0c0"/>
<rect x="153" y="555" width="1" height="18" fill="#c0c0c0"/>
<rect x="161" y="555" width="1" height="19" fill="#c0c0c0"/>
<rect x="169" y="555" width="1" height="18" fill="#c0c0c0"/>
<rect x="177" y="555" width="1" height="16" fill="#c0c0c0"/>
<rect x="185" y="555" width="1" height="13" fill="#c0c0c0"/>
<rect x="193" y="555" width="1" height="10" fill="#c0c0c0"/>
<rect x="201" y="555" width="1" height="8" fill="#c0c0c0"/>
<rect x="209" y="555" width="1" height="7" fill="#c0c0c0"/>
<rect x="217" y="555" width="1" height="6" fill="#c0c0c0"/>
<rect x="225" y="555" width="1" height="6" fill="#c0c0c0"/>
<rect x="233" y="555" width="1" height="6" fill="#c0c0c0"/>
<rect x="241" y="555" width="1" height="6" fill="#c0c0c0"/>
<rect x="249" y="555" width="1" height="6" fill="#c0c0c0"/>
<rect x="257" y="555" width="1" height="5" fill="#c0c0c0"/>
<rect x="265" y="555" width="1" height="5" fill="#c0c0c0"/>
<rect x="273" y="555" width="1" height="5" fill="#c0c0c0"/>
<rect x="281" y="555" width="1" height="5" fill="#c0c0c0"/>
<rect x="289" y="555" width="1" height="4" fill="#c0c0c0"/>
<rect x="297" y="555" width="1" height="4" fill="#c0c0c0"/>
<rect x="305" y="555" width="1" height="3" fill="#c0c0c0"/>
<rect x="313" y="555" width="1" height="3" fill="#c0c0c0"/>
<rect x="321" y="555" width="1" height="3" fill="#c0c0c0"/>
<rect x="329" y="555" width="1" height="3" fill="#c0c0c0"/>
<rect x="337" y="555" width="1" height="3" fill="#c0c0c0"/>
<rect x="345" y="555" width="1" height="2" fill="#c0c0c0"/>
<rect x="353" y="555" width="1" height="1" fill="#c0c0c0"/>
<rect x="361" y="555" width="1" height="1" fill="#c0c0c0"/>
<rect x="369" y="555" width="1" height="1" fill="#c0c0c0"/>
<rect x="377" y="555" width="1" height="1" fill="#c0c0c0"/>
<rect x="385" y="555" width="1" height="1" fill="#c0c0c0"/>
<rect x="393" y="555" width="1" height="1" fill="#c0c0c0"/>
<rect x="401" y="555" width="1" height="1" fill="#c0c0c0"/>
<rect x="409" y="555" width="1" height="1" fill="#c0c0c0"/>
<rect x="417" y="555" width="1" height="1" fill="#c0c0c0"/>
<rect x="425" y="555" width="1" height="1" fill="#c0c0c0"/>
<rect x="433" y="555" width="1" height="1" fill="#c0c0c0"/>
<rect x="441" y="555" width="1" height="4" fill="#c0c0c0"/>
<rect x="449" y="555" width="1" height="4" fill="#c0c0c0"/>
<rect x="457" y="555" width="1" height="4" fill="#c0c0c0"/>
<rect x="465" y="555" width="1" height="4" fill="#c0c0c0"/>
<rect x="473" y="555" width="1" height="3" fill="#c0c0c0"/>
<rect x="481" y="555" width="1" height="3" fill="#c0c0c0"/>
<rect x="489" y="555" width="1" height="3" fill="#c0c0c0"/>
<rect x="497" y="555" width="1" height="3" fill="#c0c0c0"/>
<rect x="505" y="555" width="1" height="3" fill="#c0c0c0"/>
<rect x="513" y="555" width="1" height="3" fill="#c0c0c0"/>
<rect x="521" y="555" width="1" height="3" fill="#c0c0c0"/>
<rect x="529" y="555" width="1" height="2" fill="#c0c0c0"/>
<rect x="537" y="555" width="1" height="1" fill="#c0c0c0"/>
<rect x="545" y="553" width="1" height="3" fill="#c0c0c0"/>
<rect x="553" y="551" width="1" height="5" fill="#c0c0c0"/>
<rect x="561" y="550" width="1" height="6" fill="#c0c0c0"/>
<rect x="569" y="547" width="1" height="9" fill="#c0c0c0"/>
<rect x="577" y="546" width="1" height="10" fill="#c0c0c0"/>
<rect x="585" y="545" width="1" height="11" fill="#c0c0c0"/>
<rect x="593" y="544" width="1" height="12" fill="#c0c0c0"/>
<rect x="601" y="544" width="1" height="12" fill="#c0c0c0"/>
<rect x="609" y="543" width="1" height="13" fill="#c0c0c0"/>
<rect x="617" y="543" width="1" height="13" fill="#c0c0c0"/>
<rect x="625" y="544" width="1" height="12" fill="#c0c0c0"/>
<rect x="633" y="544" width="1" height="12" fill="#c0c0c0"/>
<rect x="641" y="544" width="1" height="12" fill="#c0c0c0"/>
<rect x="649" y="543" width="1" height="13" fill="#c0c0c0"/>
<rect x="657" y="544" width="1" height="12" fill="#c0c0c0"/>
<rect x="665" y="545" width="1" height="11" fill="#c0c0c0"/>
<rect x="673" y="546" width="1" height="10" fill="#c0c0c0"/>
<rect x="681" y="547" width="1" height="9" fill="#c0c0c0"/>
<rect x="689" y="547" width="1" height="9" fill="#c0c0c0"/>
<rect x="697" y="547" width="1" height="9" fill="#c0c0c0"/>
<rect x="705" y="548" width="1" height="8" fill="#c0c0c0"/>
<rect x="713" y="548" width="1" height="8" fill="#c0c0c0"/>
<rect x="721" y="549" width="1" height="7" fill="#c0c0c0"/>
<rect x="729" y="550" width="1" height="6" fill="#c0c0c0"/>
<rect x="737" y="551" width="1" height="5" fill="#c0c0c0"/>
<rect x="745" y="552" width="1" height="4" fill="#c0c0c0"/>
<rect x="753" y="554" width="1" height="2" fill="#c0c0c0"/>
<rect x="761" y="555" width="1" height="1" fill="#c0c0c0"/>
<rect x="769" y="555" width="1" height="2" fill="#c0c0c0"/>
<rect x="777" y="555" width="1" height="5" fill="#c0c0c0"/>
<rect x="785" y="555" width="1" height="7" fill="#c0c0c0"/>
<rect x="793" y="555" width="1" height="9" fill="#c0c0c0"/>
<rect x="801" y="555" width="1" height="11" fill="#c0c0c0"/>
<rect x="809" y="555" width="1" height="13" fill="#c0c0c0"/>
<rect x="817" y="555" width="1" height="18" fill="#c0c0c0"/>
<rect x="825" y="555" width="1" height="24" fill="#c0c0c0"/>
<rect x="833" y="555" width="1" height="27" fill="#c0c0c0"/>
<rect x="841" y="555" width="1" height="29" fill="#c0c0c0"/>
<rect x="849" y="555" width="1" height="30" fill="#c0c0c0"/>
<rect x="857" y="555" width="1" height="31" fill="#c0c0c0"/>
<rect x="865" y="555" width="1" height="32" fill="#c0c0c0"/>
<rect x="873" y="555" width="1" height="31" fill="#c0c0c0"/>
<rect x="881" y="555" width="1" height="29" fill="#c0c0c0"/>
<rect x="889" y="555" width="1" height="28" fill="#c0c0c0"/>
<rect x="897" y="555" width="1" height="27" fill="#c0c0c0"/>
<rect x="905" y="555" width="1" height="27" fill="#c0c0c0"/>
<rect x="913" y="555" width="1" height="26" fill="#c0c0c0"/>
<rect x="921" y="555" width="1" height="24" fill="#c0c0c0"/>
<rect x="929" y="555" width="1" height="22" fill="#c0c0c0"/>
<rect x="937" y="555" width="1" height="20" fill="#c0c0c0"/>
<rect x="945" y="555" width="1" height="18" fill="#c0c0c0"/>
<rect x="953" y="555" width="1" height="16" fill="#c0c0c0"/>
<rect x="961" y="555" width="1" height="15" fill="#c0c0c0"/>
<rect x="969" y="555" width="1" height="14" fill="#c0c0c0"/>
<rect x="977" y="555" width="1" height="13" fill="#c0c0c0"/>
<rect x="985" y="555" width="1" height="12" fill="#c0c0c0"/>
<rect x="993" y="555" width="1" height="12" fill="#c0c0c0"/>
<rect x="1001" y="555" width="1" height="13" fill="#c0c0c0"/>
<rect x="1009" y="555" width="1" height="13" fill="#c0c0c0"/>
<rect x="1017" y="555" width="1" height="13" fill="#c0c0c0"/>
<rect x="1025" y="555" width="1" height="13" fill="#c0c0c0"/>
<rect x="1033" y="555" width="1" height="12" fill="#c0c0c0"/>
<rect x="1041" y="555" width="1" height="10" fill="#c0c0c0"/>
<rect x="1049" y="555" width="1" height="7" fill="#c0c0c0"/>
<rect x="1057" y="555" width="1" height="6" fill="#c0c0c0"/>
<rect x="1065" y="555" width="1" height="7" fill="#c0c0c0"/>
<rect x="1073" y="555" width="1" height="12" fill="#c0c0c0"/>
<rect x="1081" y="555" width="1" height="15" fill="#c0c0c0"/>
<rect x="1089" y="555" width="1" height="18" fill="#c0c0c0"/>
<rect x="1097" y="555" width="1" height="20" fill="#c0c0c0"/>
<rect x="1105" y="555" width="1" height="23" fill="#c0c0c0"/>
<rect x="1113" y="555" width="1" height="25" fill="#c0c0c0"/>
<rect x="1121" y="555" width="1" height="30" fill="#c0c0c0"/>
<rect x="1129" y="555" width="1" height="34" fill="#c0c0c0"/>
<rect x="1137" y="555" width="1" height="38" fill="#c0c0c0"/>
<rect x="1145" y="555" width="1" height="40" fill="#c0c0c0"/>
<rect x="1153" y="555" width="1" height="42" fill="#c0c0c0"/>
<rect x="1161" y="555" width="1" height="40" fill="#c0c0c0"/>
<rect x="1169" y="555" width="1" height="39" fill="#c0c0c0"/>
<rect x="1177" y="555" width="1" height="38" fill="#c0c0c0"/>
<rect x="1185" y="555" width="1" height="38" fill="#c0c0c0"/>
<rect x="1193" y="555" width="1" height="37" fill="#c0c0c0"/>
<rect x="1201" y="555" width="1" height="36" fill="#c0c0c0"/>
<rect x="1209" y="555" width="1" height="35" fill="#c0c0c0"/>
<rect x="1217" y="555" width="1" height="34" fill="#c0c0c0"/>
<rect x="1225" y="555" width="1" height="31" fill="#c0c0c0"/>
<rect x="1233" y="555" width="1" height="30" fill="#c0c0c0"/>
<rect x="1241" y="555" width="1" height="29" fill="#c0c0c0"/>
<rect x="1249" y="555" width="1" height="28" fill="#c0c0c0"/>
<rect x="1257" y="555" width="1" height="26" fill="#c0c0c0"/>
<rect x="1265" y="555" width="1" height="28" fill="#c0c0c0"/>
<rect x="1273" y="555" width="1" height="29" fill="#c0c0c0"/>
<rect x="1281" y="555" width="1" height="29" fill="#c0c0c0"/>
<rect x="1289" y="555" width="1" height="28" fill="#c0c0c0"/>
<rect x="1297" y="555" width="1" height="28" fill="#c0c0c0"/>
<rect x="1305" y="555" width="1" height="27" fill="#c0c0c0"/>
<rect x="1313" y="555" width="1" height="26" fill="#c0c0c0"/>
<rect x="1321" y="555" width="1" height="23" fill="#c0c0c0"/>
<rect x="1329" y="555" width="1" height="20" fill="#c0c0c0"/>
<path d="M633 543.5h3M639 543.5h3M645 543.5h3M651 543.5h3M657 543.5h3M663 543.5h3M669 543.5h3M675 543.5h1M621 544.5h3M627 544.5h3M676 544.5h2M681 544.5h3M687 544.5h3M693 544.5h3M699 544.5h3M705 544.5h3M615 545.5h3M711 545.5h3M717 545.5h3M723 545.5h2M609 546.5h3M725 546.5h1M729 546.5h3M603 547.5h3M735 547.5h3M741 547.5h3M597 548.5h3M747 548.5h3M753 548.5h2M591 549.5h3M755 549.5h1M759 549.5h3M585 550.5h3M765 550.5h3M575 551.5h1M579 551.5h3M771 551.5h3M569 552.5h1M573 552.5h2M777 552.5h3M563 553.5h1M567 553.5h2M783 553.5h3M561 554.5h2M789 554.5h2M555 555.5h3M791 555.5h1M388 556.5h2M393 556.5h3M399 556.5h3M405 556.5h3M411 556.5h3M417 556.5h3M423 556.5h3M429 556.5h3M435 556.5h3M441 556.5h3M447 556.5h3M545 556.5h1M549 556.5h3M795 556.5h3M357 557.5h3M363 557.5h3M369 557.5h3M375 557.5h3M381 557.5h3M387 557.5h1M453 557.5h3M459 557.5h3M465 557.5h3M531 557.5h3M537 557.5h3M543 557.5h2M801 557.5h2M339 558.5h3M345 558.5h3M351 558.5h3M471 558.5h3M477 558.5h3M483 558.5h3M489 558.5h3M495 558.5h3M501 558.5h3M507 558.5h3M513 558.5h3M519 558.5h3M525 558.5h3M803 558.5h1M327 559.5h3M333 559.5h3M807 559.5h3M309 560.5h3M315 560.5h3M321 560.5h3M285 561.5h3M291 561.5h3M297 561.5h3M303 561.5h3M813 561.5h3M45 562.5h3M51 562.5h3M57 562.5h3M63 562.5h3M69 562.5h1M267 562.5h3M273 562.5h3M279 562.5h3M819 562.5h1M27 563.5h3M33 563.5h3M39 563.5h3M70 563.5h2M75 563.5h3M81 563.5h3M255 563.5h3M261 563.5h3M820 563.5h2M15 564.5h3M21 564.5h3M87 564.5h3M243 564.5h3M249 564.5h3M9 565.5h3M93 565.5h3M237 565.5h3M825 565.5h3M99 566.5h3M231 566.5h3M1053 566.5h3M1059 566.5h3M1065 566.5h3M1071 566.5h3M1077 566.5h3M1083 566.5h3M1089 566.5h3M105 567.5h3M111 567.5h3M225 567.5h3M831 567.5h2M1035 567.5h3M1041 567.5h3M1047 567.5h3M1095 567.5h3M1101 567.5h2M117 568.5h3M123 568.5h3M129 568.5h1M219 568.5h3M833 568.5h1M1023 568.5h3M1029 568.5h3M1103 568.5h1M1107 568.5h1M130 569.5h2M135 569.5h3M141 569.5h3M208 569.5h2M213 569.5h3M837 569.5h1M1007 569.5h1M1011 569.5h3M1017 569.5h3M1108 569.5h2M147 570.5h3M153 570.5h2M201 570.5h3M207 570.5h1M838 570.5h2M999 570.5h3M1005 570.5h2M1113 570.5h3M155 571.5h1M159 571.5h3M165 571.5h3M189 571.5h3M195 571.5h3M993 571.5h3M171 572.5h3M177 572.5h3M183 572.5h3M843 572.5h3M987 572.5h3M1119 572.5h3M849 573.5h1M981 573.5h3M1125 573.5h1M850 574.5h2M975 574.5h3M1126 574.5h2M855 575.5h1M969 575.5h3M856 576.5h2M963 576.5h3M1131 576.5h1M861 577.5h2M957 577.5h3M1132 577.5h2M863 578.5h1M951 578.5h3M867 579.5h3M945 579.5h3M1137 579.5h2M939 580.5h3M1139 580.5h1M873 581.5h3M933 581.5h3M1143 581.5h1M879 582.5h1M927 582.5h3M1144 582.5h2M1319 582.5h1M1323 582.5h3M880 583.5h2M885 583.5h1M916 583.5h2M921 583.5h3M1149 583.5h1M1288 583.5h2M1293 583.5h3M1299 583.5h3M1305 583.5h3M1311 583.5h3M1317 583.5h2M886 584.5h2M891 584.5h3M897 584.5h3M903 584.5h3M909 584.5h3M915 584.5h1M1150 584.5h2M1281 584.5h3M1287 584.5h1M1271 585.5h1M1275 585.5h3M1155 586.5h3M1263 586.5h3M1269 586.5h2M1257 587.5h3M1161 588.5h3M1251 588.5h3M1167 589.5h1M1245 589.5h3M1168 590.5h2M1239 590.5h3M1173 591.5h3M1233 591.5h3M1179 592.5h3M1227 592.5h3M1185 593.5h3M1216 593.5h2M1221 593.5h3M1191 594.5h3M1197 594.5h3M1203 594.5h3M1209 594.5h3M1215 594.5h1" fill="none" stroke="#ff0000" stroke-width="1" />
<line x1="10" y1="642.5" x2="1678" y2="642.5" stroke="#c0c0c0" stroke-dasharray="3 3"/>
<line x1="10" y1="692.5" x2="1678" y2="692.5" stroke="#c0c0c0" stroke-dasharray="3 3"/>
<path d="M569 644.5h1M567 645.5h2M570 645.5h1M565 646.5h2M571 646.5h2M564 647.5h1M573 647.5h1M608 647.5h2M562 648.5h2M574 648.5h1M583 648.5h4M604 648.5h4M610 648.5h1M561 649.5h1M575 649.5h2M579 649.5h4M587 649.5h4M598 649.5h6M611 649.5h1M647 649.5h4M559 650.5h2M577 650.5h2M591 650.5h7M612 650.5h1M643 650.5h4M651 650.5h2M558 651.5h1M613 651.5h2M641 651.5h2M653 651.5h2M557 652.5h1M615 652.5h1M640 652.5h1M655 652.5h2M544 653.5h3M555 653.5h2M616 653.5h1M639 653.5h1M657 653.5h2M540 654.5h4M547 654.5h4M554 654.5h1M617 654.5h1M639 654.5h1M659 654.5h1M538 655.5h2M551 655.5h3M618 655.5h1M638 655.5h1M660 655.5h1M709 655.5h5M536 656.5h2M619 656.5h1M637 656.5h1M661 656.5h1M692 656.5h17M714 656.5h1M534 657.5h2M620 657.5h1M636 657.5h1M662 657.5h1M688 657.5h4M714 657.5h1M532 658.5h2M621 658.5h2M635 658.5h1M663 658.5h1M684 658.5h4M715 658.5h1M417 659.5h1M521 659.5h4M530 659.5h2M623 659.5h1M635 659.5h1M664 659.5h1M672 659.5h12M715 659.5h1M415 660.5h2M418 660.5h1M520 660.5h1M525 660.5h5M624 660.5h1M634 660.5h1M665 660.5h1M668 660.5h4M716 660.5h1M1049 660.5h1M185 661.5h1M414 661.5h1M418 661.5h1M520 661.5h1M625 661.5h9M666 661.5h2M716 661.5h1M1047 661.5h2M1050 661.5h1M184 662.5h1M186 662.5h2M413 662.5h1M419 662.5h1M519 662.5h1M717 662.5h1M1046 662.5h1M1050 662.5h1M184 663.5h1M188 663.5h1M352 663.5h3M411 663.5h2M419 663.5h1M471 663.5h4M519 663.5h1M717 663.5h1M1045 663.5h1M1051 663.5h1M183 664.5h1M189 664.5h2M349 664.5h3M355 664.5h2M410 664.5h1M420 664.5h1M467 664.5h4M475 664.5h3M518 664.5h1M718 664.5h1M1043 664.5h2M1052 664.5h1M183 665.5h1M191 665.5h2M273 665.5h3M347 665.5h2M357 665.5h3M409 665.5h1M420 665.5h1M465 665.5h2M478 665.5h3M517 665.5h1M718 665.5h1M729 665.5h1M1042 665.5h1M1053 665.5h1M182 666.5h1M193 666.5h2M272 666.5h1M276 666.5h4M313 666.5h1M341 666.5h6M360 666.5h10M407 666.5h2M421 666.5h1M464 666.5h1M481 666.5h2M517 666.5h1M719 666.5h1M727 666.5h2M730 666.5h1M1037 666.5h5M1053 666.5h1M181 667.5h1M195 667.5h4M271 667.5h1M280 667.5h11M312 667.5h1M314 667.5h1M336 667.5h5M370 667.5h2M405 667.5h2M422 667.5h1M463 667.5h1M483 667.5h1M516 667.5h1M719 667.5h1M725 667.5h2M731 667.5h2M1031 667.5h6M1054 667.5h1M1321 667.5h2M181 668.5h1M199 668.5h6M271 668.5h1M291 668.5h2M311 668.5h1M315 668.5h1M334 668.5h2M372 668.5h1M404 668.5h1M422 668.5h1M463 668.5h1M484 668.5h1M515 668.5h1M720 668.5h1M724 668.5h1M733 668.5h1M1027 668.5h4M1055 668.5h1M1321 668.5h1M1323 668.5h2M180 669.5h1M205 669.5h5M270 669.5h1M293 669.5h2M309 669.5h2M316 669.5h1M332 669.5h2M373 669.5h2M383 669.5h3M402 669.5h2M423 669.5h1M462 669.5h1M485 669.5h2M515 669.5h1M720 669.5h1M722 669.5h2M734 669.5h1M1025 669.5h2M1056 669.5h1M1320 669.5h1M1325 669.5h2M179 670.5h1M210 670.5h2M247 670.5h6M269 670.5h1M295 670.5h2M308 670.5h1M317 670.5h1M330 670.5h2M375 670.5h2M379 670.5h4M386 670.5h1M401 670.5h1M423 670.5h1M461 670.5h1M487 670.5h1M495 670.5h3M514 670.5h1M721 670.5h1M735 670.5h2M1025 670.5h1M1056 670.5h1M1320 670.5h1M1327 670.5h2M33 671.5h2M179 671.5h1M212 671.5h2M245 671.5h2M253 671.5h5M268 671.5h1M297 671.5h3M307 671.5h1M318 671.5h1M328 671.5h2M377 671.5h2M387 671.5h1M399 671.5h2M424 671.5h1M460 671.5h1M488 671.5h1M491 671.5h4M498 671.5h2M514 671.5h1M737 671.5h2M1024 671.5h1M1057 671.5h1M1319 671.5h1M32 672.5h1M35 672.5h4M178 672.5h1M214 672.5h2M243 672.5h2M258 672.5h2M267 672.5h1M300 672.5h4M306 672.5h1M319 672.5h1M325 672.5h3M388 672.5h1M398 672.5h1M424 672.5h1M459 672.5h1M489 672.5h2M500 672.5h2M511 672.5h3M739 672.5h4M1024 672.5h1M1058 672.5h1M1319 672.5h1M32 673.5h1M39 673.5h13M178 673.5h1M216 673.5h2M241 673.5h2M260 673.5h2M267 673.5h1M304 673.5h2M320 673.5h1M323 673.5h2M389 673.5h2M397 673.5h1M425 673.5h1M449 673.5h2M459 673.5h1M502 673.5h2M507 673.5h4M743 673.5h4M1024 673.5h1M1059 673.5h1M1319 673.5h1M17 674.5h1M31 674.5h1M52 674.5h4M121 674.5h1M169 674.5h9M218 674.5h2M239 674.5h2M262 674.5h2M266 674.5h1M321 674.5h2M391 674.5h1M395 674.5h2M426 674.5h1M447 674.5h2M451 674.5h4M458 674.5h1M504 674.5h3M747 674.5h4M1024 674.5h1M1059 674.5h1M1318 674.5h1M15 675.5h2M18 675.5h1M30 675.5h1M56 675.5h2M120 675.5h1M122 675.5h1M168 675.5h1M220 675.5h2M237 675.5h2M264 675.5h2M392 675.5h1M394 675.5h1M427 675.5h1M445 675.5h2M455 675.5h3M751 675.5h6M1023 675.5h1M1060 675.5h1M1318 675.5h1M14 676.5h1M19 676.5h1M29 676.5h1M58 676.5h1M119 676.5h1M123 676.5h2M168 676.5h1M222 676.5h2M235 676.5h2M393 676.5h1M428 676.5h1M444 676.5h1M757 676.5h5M936 676.5h6M1023 676.5h1M1061 676.5h1M1317 676.5h1M13 677.5h1M20 677.5h1M29 677.5h1M59 677.5h1M118 677.5h1M125 677.5h1M167 677.5h1M224 677.5h5M233 677.5h2M429 677.5h2M442 677.5h2M762 677.5h1M933 677.5h3M942 677.5h6M959 677.5h4M1023 677.5h1M1062 677.5h1M1317 677.5h1M11 678.5h2M21 678.5h1M28 678.5h1M60 678.5h1M117 678.5h1M126 678.5h1M167 678.5h1M229 678.5h4M431 678.5h1M439 678.5h3M762 678.5h1M931 678.5h2M948 678.5h4M955 678.5h4M963 678.5h4M1023 678.5h1M1063 678.5h1M1317 678.5h1M10 679.5h1M22 679.5h1M27 679.5h1M61 679.5h1M116 679.5h1M127 679.5h2M136 679.5h2M166 679.5h1M432 679.5h1M435 679.5h4M763 679.5h1M925 679.5h6M952 679.5h3M967 679.5h6M981 679.5h5M1022 679.5h1M1063 679.5h1M1316 679.5h1M9 680.5h1M23 680.5h1M26 680.5h1M61 680.5h1M115 680.5h1M129 680.5h1M132 680.5h4M138 680.5h1M166 680.5h1M433 680.5h2M763 680.5h1M921 680.5h4M973 680.5h8M986 680.5h1M1022 680.5h1M1064 680.5h1M1223 680.5h3M1316 680.5h1M24 681.5h1M26 681.5h1M62 681.5h1M114 681.5h1M130 681.5h2M138 681.5h1M165 681.5h1M764 681.5h1M920 681.5h1M987 681.5h2M1022 681.5h1M1065 681.5h1M1219 681.5h4M1226 681.5h2M1315 681.5h1M25 682.5h1M63 682.5h1M113 682.5h1M139 682.5h1M165 682.5h1M764 682.5h1M919 682.5h1M989 682.5h1M1022 682.5h1M1066 682.5h1M1217 682.5h2M1228 682.5h2M1304 682.5h2M1315 682.5h1M64 683.5h1M112 683.5h1M139 683.5h1M164 683.5h1M765 683.5h1M918 683.5h1M990 683.5h1M1021 683.5h1M1067 683.5h1M1216 683.5h1M1230 683.5h2M1302 683.5h2M1306 683.5h2M1315 683.5h1M65 684.5h1M111 684.5h1M140 684.5h1M164 684.5h1M765 684.5h1M916 684.5h2M991 684.5h2M1021 684.5h1M1068 684.5h1M1161 684.5h1M1215 684.5h1M1232 684.5h23M1300 684.5h2M1308 684.5h1M1314 684.5h1M66 685.5h1M109 685.5h2M141 685.5h1M163 685.5h1M766 685.5h1M915 685.5h1M993 685.5h4M1021 685.5h1M1069 685.5h1M1161 685.5h3M1214 685.5h1M1255 685.5h3M1298 685.5h2M1309 685.5h2M1314 685.5h1M66 686.5h1M108 686.5h1M141 686.5h1M163 686.5h1M766 686.5h1M880 686.5h3M914 686.5h1M997 686.5h5M1020 686.5h1M1070 686.5h1M1160 686.5h1M1164 686.5h1M1213 686.5h1M1258 686.5h1M1288 686.5h10M1311 686.5h3M67 687.5h1M107 687.5h1M142 687.5h1M162 687.5h1M767 687.5h1M877 687.5h3M883 687.5h4M913 687.5h1M1002 687.5h1M1020 687.5h1M1071 687.5h1M1160 687.5h1M1165 687.5h2M1199 687.5h4M1212 687.5h1M1258 687.5h1M1285 687.5h3M1313 687.5h1M67 688.5h1M87 688.5h15M106 688.5h1M143 688.5h1M162 688.5h1M767 688.5h1M875 688.5h2M887 688.5h4M911 688.5h2M1003 688.5h1M1020 688.5h1M1072 688.5h1M1159 688.5h1M1167 688.5h2M1195 688.5h4M1203 688.5h2M1211 688.5h1M1259 688.5h1M1273 688.5h4M1283 688.5h2M68 689.5h1M83 689.5h4M102 689.5h4M143 689.5h1M160 689.5h2M768 689.5h1M873 689.5h2M891 689.5h2M909 689.5h2M1003 689.5h1M1020 689.5h1M1073 689.5h1M1159 689.5h1M1169 689.5h2M1184 689.5h11M1205 689.5h3M1210 689.5h1M1259 689.5h1M1272 689.5h1M1277 689.5h6M68 690.5h1M81 690.5h2M144 690.5h1M157 690.5h3M768 690.5h1M783 690.5h3M873 690.5h1M893 690.5h3M907 690.5h2M1004 690.5h1M1019 690.5h1M1074 690.5h2M1158 690.5h1M1171 690.5h2M1181 690.5h3M1208 690.5h2M1260 690.5h1M1271 690.5h1M69 691.5h1M80 691.5h1M144 691.5h1M155 691.5h2M769 691.5h1M779 691.5h4M786 691.5h3M872 691.5h1M896 691.5h5M905 691.5h2M1005 691.5h1M1019 691.5h1M1076 691.5h2M1093 691.5h5M1158 691.5h1M1173 691.5h3M1179 691.5h2M1261 691.5h1M1271 691.5h1M70 692.5h1M79 692.5h1M145 692.5h10M769 692.5h10M789 692.5h3M872 692.5h1M901 692.5h4M1006 692.5h1M1019 692.5h1M1078 692.5h2M1085 692.5h8M1098 692.5h2M1158 692.5h1M1176 692.5h3M1261 692.5h1M1270 692.5h1M70 693.5h1M78 693.5h1M792 693.5h5M871 693.5h1M1007 693.5h1M1019 693.5h1M1080 693.5h5M1100 693.5h2M1157 693.5h1M1262 693.5h1M1269 693.5h1M71 694.5h1M77 694.5h1M797 694.5h5M871 694.5h1M1007 694.5h1M1018 694.5h1M1102 694.5h2M1157 694.5h1M1263 694.5h1M1268 694.5h1M71 695.5h1M76 695.5h1M802 695.5h2M870 695.5h1M1008 695.5h1M1018 695.5h1M1104 695.5h3M1156 695.5h1M1263 695.5h1M1267 695.5h1M72 696.5h1M75 696.5h1M804 696.5h1M870 696.5h1M1009 696.5h2M1018 696.5h1M1107 696.5h4M1156 696.5h1M1264 696.5h1M1267 696.5h1M72 697.5h1M74 697.5h1M805 697.5h2M869 697.5h1M1011 697.5h2M1018 697.5h1M1111 697.5h2M1156 697.5h1M1264 697.5h1M1266 697.5h1M73 698.5h1M807 698.5h2M869 698.5h1M1013 698.5h3M1017 698.5h1M1113 698.5h1M1155 698.5h1M1265 698.5h1M809 699.5h1M868 699.5h1M1016 699.5h2M1114 699.5h1M1155 699.5h1M810 700.5h1M868 700.5h1M1115 700.5h1M1154 700.5h1M810 701.5h1M867 701.5h1M1116 701.5h2M1154 701.5h1M811 702.5h1M841 702.5h15M867 702.5h1M1118 702.5h1M1153 702.5h1M811 703.5h1M840 703.5h1M856 703.5h4M866 703.5h1M1119 703.5h1M1127 703.5h4M1143 703.5h11M812 704.5h1M839 704.5h1M860 704.5h2M866 704.5h1M1120 704.5h1M1123 704.5h4M1131 704.5h4M1139 704.5h4M813 705.5h1M838 705.5h1M862 705.5h2M865 705.5h1M1121 705.5h2M1135 705.5h4M813 706.5h1M837 706.5h1M864 706.5h2M814 707.5h1M837 707.5h1M815 708.5h1M836 708.5h1M815 709.5h1M835 709.5h1M816 710.5h1M834 710.5h1M816 711.5h1M831 711.5h3M817 712.5h14" fill="none" stroke="#1e90ff" stroke-width="1" />
<rect x="1680" y="436" width="49" height="13" fill="#000"/>
<rect x="1680" y="296" width="49" height="14" fill="#ff0000"/>
<rect x="1680" y="365" width="49" height="14" fill="#ff0000"/>
<rect x="1680" y="430" width="49" height="14" fill="#00ff7f"/>
<polygon points="12,51.4 21.5,51.4 16.75,45.8" fill="#000" shape-rendering="auto"/>
<g shape-rendering="auto" text-rendering="geometricPrecision">
<text class="t" x="1685" y="81">63.550</text>
<text class="t" x="1685" y="130">62.125</text>
<text class="t" x="1685" y="179">60.700</text>
<text class="t" x="1685" y="228">59.300</text>
<text class="t" x="1685" y="277">57.875</text>
<text class="t" x="1685" y="326">56.450</text>
<text class="t" x="1685" y="424">53.625</text>
<text class="t" x="1685" y="473">52.200</text>
<text class="t" x="1685" y="522">50.775</text>
<text class="t" x="1685" y="447.5" fill="#fff" style="fill:#fff;stroke:none">52.960</text>
<rect x="1680" y="430" width="49" height="14" fill="#00ff7f" shape-rendering="crispEdges"/>
<text class="t" x="1685" y="441.5" style="fill:#fff;stroke:none">53.130</text>
<text class="t" x="1685" y="307.5" style="fill:#fff;stroke:none">57.020</text>
<text class="t" x="1685" y="376.5" style="fill:#fff;stroke:none">55.000</text>
<text class="t" x="1683" y="552">0.5799</text>
<text class="t" x="1683" y="560">0.00</text>
<text class="t" x="1682" y="597">-1.7106</text>
<text class="t" x="1682" y="616">100</text>
<text class="t" x="1680.3" y="647">70</text>
<text class="t" x="1680.3" y="697">30</text>
<text class="t" x="1682" y="728">0</text>
<text class="t" x="8" y="747" style="font-size:12.2px">1 May 2019</text>
<text class="t" x="104" y="747" style="font-size:12.2px">3 May 04:00</text>
<text class="t" x="200" y="747" style="font-size:12.2px">7 May 00:00</text>
<text class="t" x="296" y="747" style="font-size:12.2px">9 May 00:00</text>
<text class="t" x="392" y="747" style="font-size:12.2px">12 May 23:00</text>
<text class="t" x="488" y="747" style="font-size:12.2px">14 May 20:00</text>
<text class="t" x="584" y="747" style="font-size:12.2px">16 May 20:00</text>
<text class="t" x="680" y="747" style="font-size:12.2px">20 May 16:00</text>
<text class="t" x="776" y="747" style="font-size:12.2px">22 May 16:00</text>
<text class="t" x="872" y="747" style="font-size:12.2px">24 May 16:00</text>
<text class="t" x="968" y="747" style="font-size:12.2px">28 May 12:00</text>
<text class="t" x="1064" y="747" style="font-size:12.2px">30 May 12:00</text>
<text class="t" x="1160" y="747" style="font-size:12.2px">3 Jun 08:00</text>
<text class="t" x="1256" y="747" style="font-size:12.2px">5 Jun 08:00</text>
<text class="t" x="27" y="52.6" style="font-size:12.9px" textLength="50.5" lengthAdjust="spacingAndGlyphs">USOil-,H4</text>
<text class="t" x="85.6" y="52.6" style="font-size:12.9px">53.150 53.270 52.930 52.960</text>
<text class="t" x="13" y="554" style="font-size:12.9px" textLength="178.7" lengthAdjust="spacingAndGlyphs">MACD(12,26,9) -0.7750 -1.0315</text>
<text class="t" x="13" y="618" style="font-size:12.9px" textLength="91" lengthAdjust="spacingAndGlyphs">RSI(14) 47.9413</text>
<text class="tb" x="199.5" y="23.2">M1</text>
<text class="tb" x="233.5" y="23.2">M5</text>
<text class="tb" x="265.5" y="23.2">M15</text>
<text class="tb" x="299.5" y="23.2">M30</text>
<text class="tb" x="337.5" y="23.2">H1</text>
<text class="tb" x="370" y="23.2">H4</text>
<text class="tb" x="405.5" y="23.2">D1</text>
<text class="tb" x="439" y="23.2">W1</text>
<text class="tb" x="470.5" y="23.2">MN</text>
<text x="1257.3" y="278.7" style="font-family:'Noto Sans CJK SC',sans-serif;font-size:50.5px;fill:#fb2010">多空转折点53</text>
<g stroke="#5a5a5a" fill="none" stroke-width="1.5" stroke-linecap="round">
<path d="M6.9 20.2 L16.8 10.9" stroke="#777"/><path d="M13.9 26.5 L25.2 16.7" stroke="#777"/>
<path d="M8.7 25.2 L11 18.4 L13.6 22.2 L17.9 14.5 L20 18 L22 9.2 L23.6 16.2" stroke="#505050" stroke-width="1.45" stroke-linejoin="round"/>
</g>
<text x="20.8" y="29.9" font-weight="700" font-size="9.8" font-family="Liberation Sans, sans-serif" fill="#555">E</text>
<g stroke="#6a6a6a" stroke-width="1.8" stroke-dasharray="1.25 1.3">
<path d="M42.6 10 H59.6 M42.6 13.9 H59.6 M42.6 18.9 H59.6 M42.6 24 H54.2"/>
</g>
<text x="54.9" y="29.9" font-weight="700" font-size="9.8" font-family="Liberation Sans, sans-serif" fill="#555">F</text>
<text x="79.7" y="24.7" textLength="10.4" lengthAdjust="spacingAndGlyphs" font-weight="700" font-size="16" font-family="Liberation Sans, sans-serif" fill="#666">A</text>
<rect x="112.6" y="11.6" width="13.6" height="14.8" fill="none" stroke="#555" stroke-dasharray="1.2 1.3" stroke-width="1.3"/>
<rect x="110.8" y="9.4" width="2.2" height="2" fill="#666"/>
<path d="M114.6 15.6 H124.3 M119.45 15.6 V24.7" stroke="#6e6e6e" stroke-width="2.3" fill="none"/>
<polygon points="149.1,10.4 154,15.8 152,15.8 152,17.6 146.3,17.6 146.3,15.8 144.3,15.8" fill="#5e5e5e"/>
<polygon points="153.3,22.9 156,22.9 156,21.3 160.3,21.3 160.3,22.9 162.6,22.9 157.9,27.4" fill="#5e5e5e"/>
<path d="M147.4 20.6 L150.3 22.9 L156 16.2" stroke="#555" stroke-width="1.7" fill="none"/>
<polygon points="167.4,16.8 175.6,16.8 171.5,21.5" fill="#111"/>

</g>
</svg>
<div id="oct">
<div class="abs" style="left:10px;top:59px;width:287px;height:80px;background:#fff"></div>
<div class="abs" style="left:80px;top:61px;width:147px;height:27px;background:#fff"></div>
<div class="abs" style="left:82px;top:61px;width:143px;height:25px;box-sizing:border-box;border:1px solid #a9adb8;background:#fff"></div>
<div class="abs" style="left:83px;top:62px;width:23px;height:23px;background:linear-gradient(#ececec,#dcdcdc 50%,#cfcfcf 51%,#c6c6c6);border-right:1px solid #b5b8c0"></div>
<div class="abs" style="left:201px;top:62px;width:23px;height:23px;background:linear-gradient(#ececec,#dcdcdc 50%,#cfcfcf 51%,#c6c6c6);border-left:1px solid #b5b8c0;box-sizing:border-box"></div>
<div class="abs" style="left:90.7px;top:71.5px;width:0;height:0;border-left:4px solid transparent;border-right:4px solid transparent;border-top:4.6px solid #5465b8"></div>
<div class="abs" style="left:208.3px;top:71.3px;width:0;height:0;border-left:4px solid transparent;border-right:4px solid transparent;border-bottom:4.6px solid #5465b8"></div>
<div class="abs" style="left:120px;top:62px;width:77px;height:23px;line-height:22px;text-align:right;font-size:16.2px;color:#000"><span class="sx" style="transform:scaleX(.97);transform-origin:100% 50%">1.00</span></div>

<div class="pan" style="left:12px;top:61px;width:68px;height:28px;border-bottom:none;background:linear-gradient(#f94f4f,#e63a3b)"></div>
<div class="pan" style="left:227px;top:61px;width:68px;height:28px;border-bottom:none;background:linear-gradient(#f94f4f,#e63a3b)"></div>
<div class="pan" style="left:12px;top:88px;width:141px;height:49px;background:linear-gradient(#e13333,#c81b1c 55%,#b00707)"></div>
<div class="pan" style="left:155px;top:88px;width:140px;height:49px;background:linear-gradient(#e13333,#c81b1c 55%,#b00707)"></div>
<div class="abs" style="left:13px;top:87px;width:66px;height:2px;background:#e23536"></div>
<div class="abs" style="left:228px;top:87px;width:66px;height:2px;background:#e23536"></div>
<div class="abs" style="left:16px;top:87px;width:60px;height:1px;background:#a50d0f"></div>
<div class="abs" style="left:16px;top:88px;width:60px;height:1px;background:#ee5a5a"></div>
<div class="abs" style="left:231px;top:87px;width:60px;height:1px;background:#a50d0f"></div>
<div class="abs" style="left:231px;top:88px;width:60px;height:1px;background:#ee5a5a"></div>
<div class="abs" style="left:29px;top:63.5px;height:22px;line-height:22px;font-size:15.8px;color:#fff"><span class="sx" style="transform:scaleX(.843)">SELL</span></div>
<div class="abs" style="left:246px;top:63.5px;height:22px;line-height:22px;font-size:15.8px;color:#fff"><span class="sx" style="transform:scaleX(.871)">BUY</span></div>
<div class="abs" style="left:51.5px;top:111px;font-size:15px;font-weight:bold;color:#fff;line-height:18px">52</div>
<div class="abs" style="left:72px;top:88.8px;font-size:42.5px;color:#fff;line-height:46px;letter-spacing:-1px"><span class="sx" style="transform:scaleX(.953)">96</span></div>
<div class="abs" style="left:122px;top:94px;font-size:14px;font-weight:bold;color:#fff;line-height:17px">0</div>
<div class="abs" style="left:193.5px;top:111px;font-size:15px;font-weight:bold;color:#fff;line-height:18px">53</div>
<div class="abs" style="left:215.5px;top:88.8px;font-size:42.5px;color:#fff;line-height:46px;letter-spacing:-1px"><span class="sx" style="transform:scaleX(.953)">01</span></div>
<div class="abs" style="left:265px;top:94px;font-size:14px;font-weight:bold;color:#fff;line-height:17px">0</div>
</div>

</body></html>
